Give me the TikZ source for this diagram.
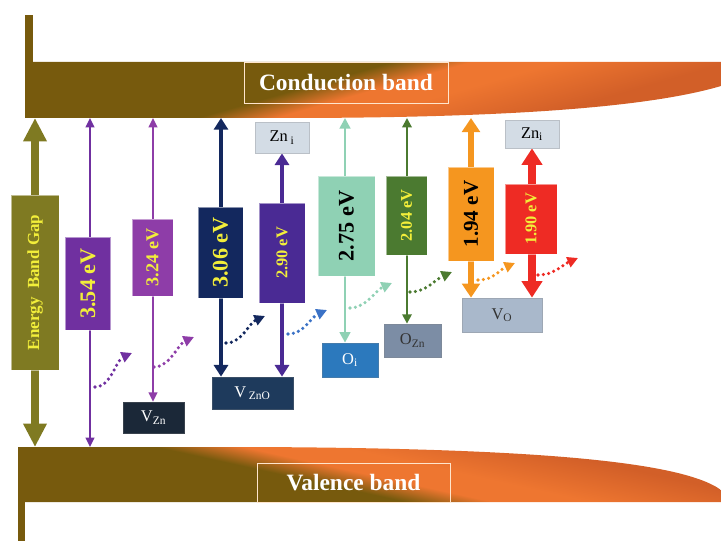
\documentclass[tikz,border=0pt]{standalone}
\usepackage{fontspec}
\setmainfont{Liberation Serif}
\usetikzlibrary{arrows.meta}

\definecolor{bandbrown}{HTML}{775A0D}
\definecolor{bandorange}{HTML}{EE7630}
\definecolor{banddeep}{HTML}{D25F28}
\definecolor{gapolive}{HTML}{7F7A22}
\definecolor{evyellow}{HTML}{F2EE3A}
\definecolor{c354}{HTML}{7030A0}
\definecolor{c324}{HTML}{8E3DA8}
\definecolor{c306}{HTML}{13285E}
\definecolor{c290}{HTML}{4A2A94}
\definecolor{c275}{HTML}{8FD1B4}
\definecolor{c204}{HTML}{4B7A30}
\definecolor{c194}{HTML}{F5961F}
\definecolor{c190}{HTML}{EE2B24}
\definecolor{wblue}{HTML}{3B72C6}
\definecolor{dvzn}{HTML}{1B2838}
\definecolor{dvzno}{HTML}{1E3A5C}
\definecolor{dzni}{HTML}{D3DCE5}
\definecolor{doi}{HTML}{2C79BD}
\definecolor{dozn}{HTML}{7C8DA5}
\definecolor{dvo}{HTML}{A9B8CB}

\pgfdeclarelayer{bg}
\pgfsetlayers{bg,main}

\pgfdeclarehorizontalshading{bandfill}{100bp}{color(0bp)=(bandbrown); color(44.5bp)=(bandbrown);
  color(50bp)=(bandorange); color(56bp)=(bandorange); color(68bp)=(banddeep); color(100bp)=(banddeep)}

\newcommand\evsize[1]{\fontsize{#1}{#1}\selectfont}

\tikzset{
  evbox/.style={rotate=90,draw=white,draw opacity=0.5,line width=0.6pt,inner sep=0pt,
    text=evyellow,font=\bfseries},
  defect/.style={draw=#1!70!gray,line width=0.6pt,inner sep=0pt,font=\evsize{14}},
  bandlabel/.style={draw=white!80!orange,line width=0.6pt,text=white,inner sep=0pt,
    font=\bfseries\evsize{20}},
  trans/.style n args={4}{draw=#1,line width=#2,
    arrows={Triangle[length=#3,width=#4]-Triangle[length=#3,width=#4]}},
  wave/.style={draw=#1,line width=3pt,dash pattern=on 0pt off 4.6pt,line cap=round,
    -{Triangle[length=9pt,width=9pt,fill=#1]}},
}

\begin{document}
\begin{tikzpicture}[x=0.03cm,y=-0.03cm]
  \useasboundingbox (0,0) rectangle (721,541);

  % The two bands.
  \fill[bandbrown] (25,15) rectangle (33,62.5);
  \shade[shading=bandfill,shading angle=-74]
    (25,62) -- (721,62) -- (721,86)
      .. controls (640,110) and (480,117.5) .. (300,118) -- (25,118) -- cycle;
  \shade[shading=bandfill,shading angle=77.6]
    (18,447) -- (250,447)
      .. controls (520,448) and (680,460) .. (721,490) -- (721,502) -- (18,502) -- cycle;
  \fill[bandbrown] (18,501.5) rectangle (25,541);
  \node[bandlabel,minimum width=6.12cm,minimum height=1.23cm] (cband) at (346,82.5) {Conduction band};
  \node[bandlabel,minimum width=5.79cm,minimum height=1.17cm] (vband) at (353.5,482.5) {Valence band};

  % End points on the band edges.
  \coordinate (cgap) at (35,118);  \coordinate (vgap) at (35,447);
  \coordinate (c354) at (90,118);  \coordinate (v354) at (90,447);
  \coordinate (c324) at (153,118);
  \coordinate (c306) at (221,118);
  \coordinate (c275) at (345,118);
  \coordinate (c204) at (407,118);
  \coordinate (c194) at (471,118);

  % Transition energies.
  \node[evbox,fill=gapolive,minimum width=5.25cm,minimum height=1.44cm,font=\bfseries\evsize{14.5}]
    (egap) at (35,282.5) {Energy~~Band Gap};
  \node[evbox,fill=c354,minimum width=2.79cm,minimum height=1.35cm,font=\bfseries\evsize{19}]
    (e354) at (88,283.5) {3.54 eV};
  \node[evbox,fill=c324,minimum width=2.31cm,minimum height=1.23cm,font=\bfseries\evsize{15.5}]
    (e324) at (152.5,257.5) {3.24 eV};
  \node[evbox,fill=c306,minimum width=2.73cm,minimum height=1.35cm,font=\bfseries\evsize{19}]
    (e306) at (220.5,252.5) {3.06 eV};
  \node[evbox,fill=c290,minimum width=3.0cm,minimum height=1.38cm,font=\bfseries\evsize{14}]
    (e290) at (282,253) {2.90 eV};
  \node[evbox,fill=c275,minimum width=3.0cm,minimum height=1.71cm,text=black,font=\bfseries\evsize{19}]
    (e275) at (346.5,226) {2.75 eV};
  \node[evbox,fill=c204,minimum width=2.37cm,minimum height=1.23cm,font=\bfseries\evsize{14}]
    (e204) at (406.5,215.5) {2.04 eV};
  \node[evbox,fill=c194,minimum width=2.82cm,minimum height=1.38cm,text=black,font=\bfseries\evsize{18}]
    (e194) at (471,214) {1.94 eV};
  \node[evbox,fill=c190,minimum width=2.1cm,minimum height=1.56cm,font=\bfseries\evsize{14}]
    (e190) at (531,219) {1.90 eV};

  % Defect levels.
  \node[defect=dvzn,fill=dvzn,text=white,minimum width=1.83cm,minimum height=0.93cm]
    (vzn) at (153.5,417.5) {V\textsubscript{Zn}};
  \node[defect=dvzno,fill=dvzno,text=white,minimum width=2.43cm,minimum height=0.96cm]
    (vzno) at (252.5,393) {V\,\textsubscript{ZnO}};
  \node[defect=dzni,fill=dzni,minimum width=1.62cm,minimum height=0.93cm]
    (zni1) at (282,137.5) {Zn\,\textsubscript{i}};
  \node[defect=doi,fill=doi,text=white,minimum width=1.68cm,minimum height=1.02cm]
    (oi) at (350,360) {O\textsubscript{i}};
  \node[defect=dozn,fill=dozn,text=black!80,minimum width=1.71cm,minimum height=0.99cm]
    (ozn) at (412.5,340.5) {O\textsubscript{Zn}};
  \node[defect=dvo,fill=dvo,text=black!80,minimum width=2.4cm,minimum height=1.02cm]
    (vo) at (502,315) {V\textsubscript{O}};
  \node[defect=dzni,fill=dzni,minimum width=1.62cm,minimum height=0.84cm]
    (zni2) at (532,134) {Zn\textsubscript{i}};

  % Vertical transitions, behind the boxes.
  \begin{pgfonlayer}{bg}
    \draw[trans={gapolive}{6pt}{20pt}{19pt}] (cgap) -- (vgap);
    \draw[trans={c354}{1.5pt}{8pt}{7.5pt}] (c354) -- (v354);
    \draw[trans={c324}{1.5pt}{8pt}{7.5pt}] (c324) -- (c324 |- vzn.north);
    \draw[trans={c306}{3pt}{10pt}{12pt}] (c306) -- (c306 |- vzno.north);
    \draw[trans={c290}{3pt}{10pt}{12pt}] (zni1.south) -- (zni1.south |- vzno.north);
    \draw[trans={c275}{2.4pt}{9pt}{9pt}] (c275) -- (c275 |- oi.north);
    \draw[trans={c204}{1.8pt}{8pt}{8pt}] (c204) -- (c204 |- ozn.north);
    \draw[trans={c194}{5pt}{12pt}{15pt}] (c194) -- (c194 |- vo.north);
    \draw[trans={c190}{6pt}{14pt}{17pt}] (zni2.south) -- (zni2.south |- vo.north);
  \end{pgfonlayer}

  % Dotted relaxation arrows.
  \foreach \n/\c/\xa/\ya/\xb/\yb in {1/c354/95/387/132/353, 2/c324/154/367/194/337,
      3/c306/226/343/265/316, 4/wblue/288/334/327/310, 5/c275/350/308/392/283,
      6/c204/410/292/452/272, 7/c194/478/280/515/263, 8/c190/538/275/578/258}
  {
    \coordinate (w\n a) at (\xa,\ya);
    \coordinate (w\n b) at (\xb,\yb);
    \draw[wave=\c] (w\n a) .. controls +(16,0) and +(-16,7) .. (w\n b);
  }
\end{tikzpicture}
\end{document}
